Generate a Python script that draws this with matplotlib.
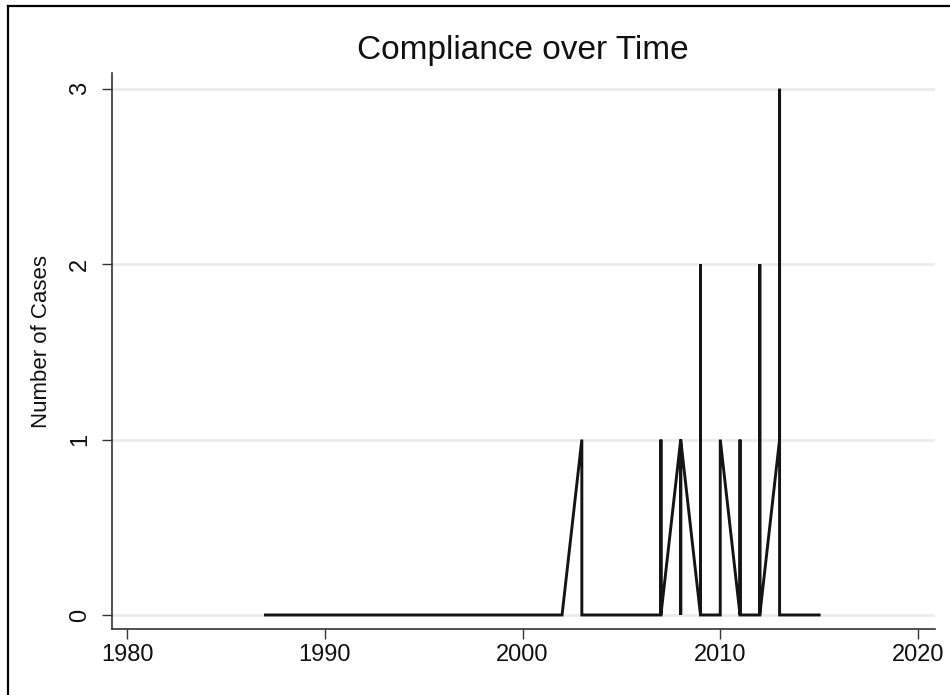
import matplotlib
matplotlib.use("Agg")
import matplotlib.pyplot as plt
from matplotlib.lines import Line2D

plt.rcParams['font.family'] = ['Liberation Sans', 'DejaVu Sans']

# Data: one row per observation, sorted by year (several rows in some years)
years = [1987, 1988, 1989, 1990, 1991, 1992, 1993, 1994, 1995, 1996, 1997,
         1998, 1999, 2000, 2001, 2002,
         2003, 2003,
         2004, 2005, 2006,
         2007, 2007, 2007,
         2008, 2008, 2008,
         2009, 2009, 2009,
         2010, 2010,
         2011, 2011, 2011,
         2012, 2012, 2012,
         2013, 2013, 2013,
         2014, 2015]
cases = [0, 0, 0, 0, 0, 0, 0, 0, 0, 0, 0,
         0, 0, 0, 0, 0,
         1, 0,
         0, 0, 0,
         0, 1, 0,
         1, 0, 1,
         0, 2, 0,
         0, 1,
         0, 1, 0,
         0, 2, 0,
         1, 3, 0,
         0, 0]
x_ticks = [1980, 1990, 2000, 2010, 2020]
y_ticks = [0, 1, 2, 3]
title = "Compliance over Time"
ylabel = "Number of Cases"

W, H = 950, 695
fig = plt.figure(figsize=(W / 100, H / 100), dpi=100)
fig.patch.set_facecolor('white')

# outer frame (left and top only are visible in the reference)
fig.add_artist(Line2D([8 / W, 8 / W], [0, 1 - 6 / H], transform=fig.transFigure,
                      color='black', lw=1.6))
fig.add_artist(Line2D([8 / W, 1], [1 - 6 / H, 1 - 6 / H], transform=fig.transFigure,
                      color='black', lw=1.6))

left, right, bottom, top = 112 / W, 935 / W, 1 - 629 / H, 1 - 73 / H
ax = fig.add_axes([left, bottom, right - left, top - bottom])

ax.plot(years, cases, color='#141414', lw=2.1, solid_joinstyle='miter', zorder=3)

ax.set_xlim(1979.24, 2020.86)
ax.set_ylim(-0.08, 3.09)
ax.set_xticks(x_ticks)
ax.set_yticks(y_ticks)
ax.set_yticklabels([str(v) for v in y_ticks], rotation=90, va='center')

for v in y_ticks:
    ax.axhline(v, color='#ececec', lw=2.0, zorder=1)

for s in ['top', 'right']:
    ax.spines[s].set_visible(False)
for s in ['left', 'bottom']:
    ax.spines[s].set_color('#333333')
    ax.spines[s].set_linewidth(1.2)

ax.tick_params(axis='both', length=7, width=1.0, color='#333333',
               labelsize=17, labelcolor='#111111')
ax.tick_params(axis='x', pad=4)
ax.tick_params(axis='y', pad=8)

ax.set_ylabel(ylabel, fontsize=16, color='#111111', labelpad=10)
ax.yaxis.set_label_coords((52 - 112) / (935 - 112), (629 - 342) / (629 - 73))

fig.text(523 / W, 1 - 50 / H, title, ha='center', va='center', fontsize=24,
         color='#111111')

fig.savefig('out.png', dpi=100, facecolor='white')
